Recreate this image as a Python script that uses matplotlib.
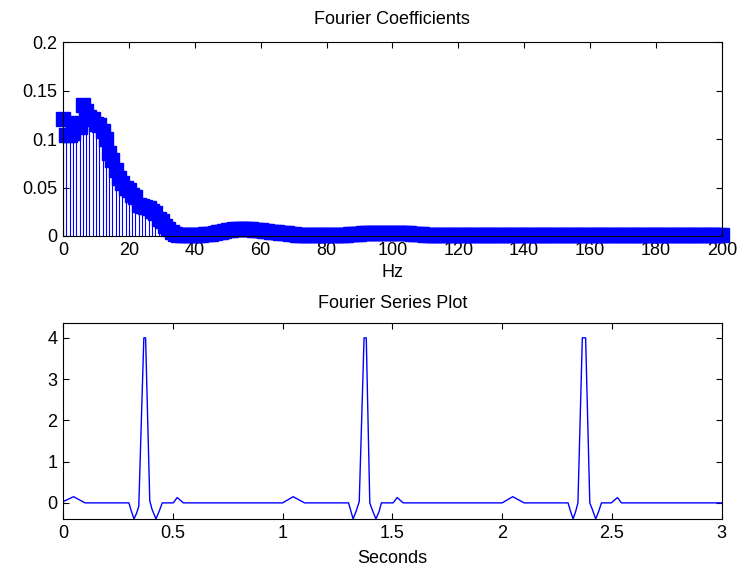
import numpy as np
import matplotlib
matplotlib.use("Agg")
import matplotlib.pyplot as plt

plt.rcParams['font.family'] = ['Liberation Sans', 'DejaVu Sans']
plt.rcParams['font.size'] = 13

# Fourier coefficient magnitudes, one per Hz (0..200)
freq_hz = list(range(201))
coef = [
    0.121, 0.104, 0.104, 0.106, 0.117, 0.112, 0.135, 0.129, 0.123, 0.121,
    0.116, 0.114, 0.108, 0.100, 0.086, 0.078, 0.068, 0.060, 0.055, 0.050,
    0.047, 0.042, 0.040, 0.032, 0.031, 0.030, 0.029, 0.026, 0.024, 0.018,
    0.015, 0.010, 0.007, 0.004, 0.002, 0.001, 0.001, 0.001, 0.001, 0.001,
    0.001, 0.001, 0.001, 0.002, 0.002, 0.002, 0.003, 0.004, 0.004, 0.005,
    0.006, 0.006, 0.007, 0.007, 0.007, 0.007, 0.007, 0.007, 0.006, 0.006,
    0.006, 0.005, 0.005, 0.004, 0.004, 0.004, 0.003, 0.003, 0.003, 0.002,
    0.002, 0.001, 0.001, 0.001, 0.001, 0.001, 0.001, 0.001, 0.001, 0.001,
    0.001, 0.001, 0.001, 0.001, 0.001, 0.001, 0.001, 0.002, 0.002, 0.002,
    0.002, 0.003, 0.003, 0.003, 0.003, 0.003, 0.003, 0.003, 0.003, 0.003,
    0.003, 0.003, 0.003, 0.003, 0.003, 0.003, 0.002, 0.002, 0.002, 0.002,
    0.001, 0.001, 0.001, 0.001, 0.001, 0.001, 0.001, 0.001, 0.001, 0.001,
    0.001, 0.001, 0.001, 0.001, 0.001, 0.001, 0.001, 0.001, 0.001, 0.001,
    0.001, 0.001, 0.001, 0.001, 0.001, 0.001, 0.001, 0.001, 0.001, 0.001,
    0.001, 0.001, 0.001, 0.001, 0.001, 0.001, 0.001, 0.001, 0.001, 0.001,
    0.001, 0.001, 0.001, 0.001, 0.001, 0.001, 0.001, 0.001, 0.001, 0.001,
    0.001, 0.001, 0.001, 0.001, 0.001, 0.001, 0.001, 0.001, 0.001, 0.001,
    0.001, 0.001, 0.001, 0.001, 0.001, 0.001, 0.001, 0.001, 0.001, 0.001,
    0.001, 0.001, 0.001, 0.001, 0.001, 0.001, 0.001, 0.001, 0.001, 0.001,
    0.001, 0.001, 0.001, 0.001, 0.001, 0.001, 0.001, 0.001, 0.001, 0.001,
    0.001,
]

# reconstructed signal, vertices (3 beats)
t_sec = [
    0.000, 0.048, 0.100, 0.300, 0.310, 0.323, 0.335, 0.345, 0.368, 0.376,
    0.395, 0.405, 0.423, 0.438, 0.452, 0.502, 0.520, 0.548,
    1.000, 1.048, 1.100, 1.300, 1.310, 1.321, 1.335, 1.349, 1.371, 1.381,
    1.397, 1.407, 1.425, 1.440, 1.450, 1.503, 1.522, 1.549,
    2.000, 2.048, 2.100, 2.300, 2.310, 2.323, 2.335, 2.345, 2.365, 2.380,
    2.399, 2.410, 2.426, 2.440, 2.452, 2.497, 2.525, 2.543, 3.000,
]
signal = [
    0.03, 0.15, 0.00, 0.00, -0.18, -0.39, -0.25, -0.08, 4.00, 4.00,
    0.05, -0.15, -0.39, -0.20, 0.00, 0.00, 0.13, 0.00,
    0.00, 0.15, 0.00, 0.00, -0.18, -0.39, -0.20, 0.03, 4.00, 4.00,
    0.00, -0.15, -0.39, -0.20, 0.00, 0.00, 0.13, 0.00,
    0.00, 0.15, 0.00, 0.00, -0.18, -0.39, -0.20, 0.00, 4.00, 4.00,
    0.00, -0.15, -0.39, -0.20, 0.00, 0.00, 0.13, 0.00, 0.00,
]

fig = plt.figure(figsize=(7.46, 5.67), dpi=100)
ax1 = fig.add_axes([0.0845, 0.5838, 0.883, 0.342])
ax2 = fig.add_axes([0.0845, 0.0847, 0.883, 0.3457])

ml, sl, bl = ax1.stem(freq_hz, coef, linefmt='-', markerfmt='s', basefmt=' ')
plt.setp(sl, color='#0000ff', linewidth=0.8)
plt.setp(ml, color='#0000ff', markersize=9.5, markeredgecolor='#0000ff')
ml.set_clip_on(False)
ax1.set_xlim(0, 200)
ax1.set_ylim(0, 0.2)
ax1.set_xticks(range(0, 201, 20))
ax1.set_yticks([0, 0.05, 0.1, 0.15, 0.2])
ax1.set_yticklabels(['0', '0.05', '0.1', '0.15', '0.2'])
ax1.set_title('Fourier Coefficients', fontsize=13, pad=13)
ax1.set_xlabel('Hz', labelpad=4)

ax2.plot(t_sec, signal, color='#0000ff', linewidth=1)
ax2.set_xlim(0, 3)
ax2.set_ylim(-0.39, 4.36)
ax2.set_xticks([0, 0.5, 1, 1.5, 2, 2.5, 3])
ax2.set_xticklabels(['0', '0.5', '1', '1.5', '2', '2.5', '3'])
ax2.set_yticks([0, 1, 2, 3, 4])
ax2.set_title('Fourier Series Plot', fontsize=13, pad=11)
ax2.set_xlabel('Seconds', labelpad=6)

for ax in (ax1, ax2):
    ax.tick_params(direction='in', top=True, right=True, length=4, width=0.8,
                   labelsize=13, pad=4)
    for s in ax.spines.values():
        s.set_linewidth(0.8)
    ax.set_zorder(1)

fig.savefig('out.png', dpi=100)
